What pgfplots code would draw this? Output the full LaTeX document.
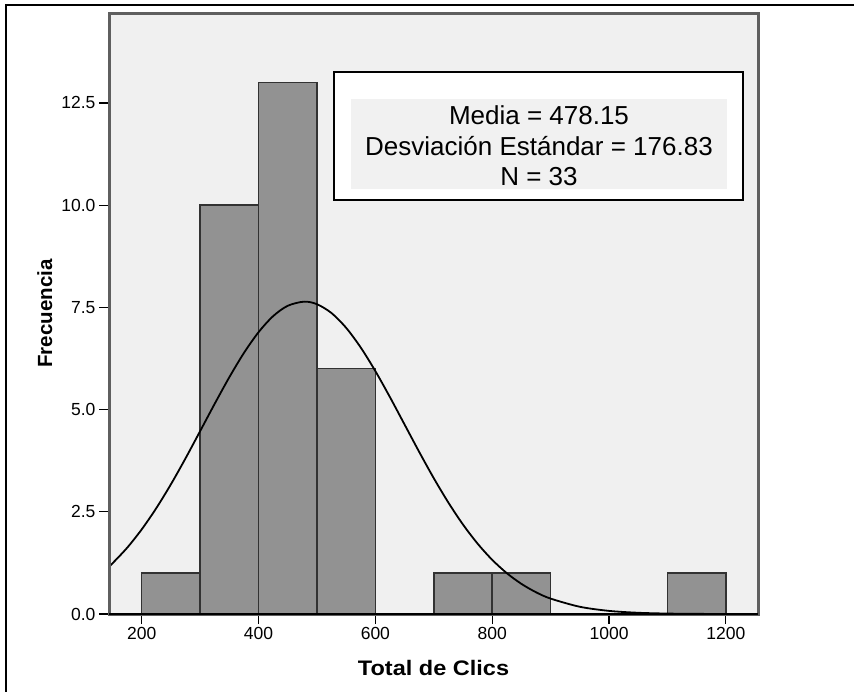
\documentclass[border=0pt]{standalone}
\usepackage{pgfplots}
\pgfplotsset{compat=1.18}
\usepackage{fontspec}
\setmainfont{Liberation Sans}
\newfontfamily\widelabel{Liberation Sans}[FakeStretch=1.12]

\definecolor{plotbg}{RGB}{240,240,240}
\definecolor{barfill}{RGB}{146,146,146}
\definecolor{baredge}{RGB}{50,50,50}
\definecolor{framegray}{RGB}{95,95,95}
\definecolor{boxgray}{RGB}{241,241,241}

\begin{document}
\begin{tikzpicture}
\useasboundingbox (0pt,0pt) rectangle (854pt,-691pt);
% outer frame of the output panel
\draw[black, line width=2pt] (6pt,-720pt) -- (6pt,-5pt) -- (880pt,-5pt);

\begin{axis}[
  at={(109pt,-614pt)}, anchor=south west,
  scale only axis, width=649pt, height=601pt,
  xmin=144, xmax=1255, ymin=0, ymax=14.7,
  xtick={200,400,600,800,1000,1200},
  ytick={0,2.5,5,7.5,10,12.5},
  xtick pos=bottom, ytick pos=left,
  tick align=outside, major tick length=10pt,
  tick style={black, line width=1.2pt},
  axis background/.style={fill=plotbg},
  axis line style={draw=framegray, line width=3pt},
  axis on top,
  /pgf/number format/assume math mode=true,
  tick label style={font=\fontsize{17.5}{17.5}\selectfont},
  xticklabel style={/pgf/number format/1000 sep={}},
  yticklabel style={/pgf/number format/fixed,
    /pgf/number format/fixed zerofill,
    /pgf/number format/precision=1},
  xlabel={Total de Clics},
  ylabel={Frecuencia},
  xlabel style={font=\fontsize{21}{21}\widelabel\bfseries,
    at={(axis description cs:0.5,-0.1015)}, anchor=base},
  ylabel style={font=\fontsize{20.5}{20.5}\selectfont\bfseries,
    at={(axis description cs:-0.0878,0.5)}, anchor=base},
  after end axis/.code={
    \draw[black, line width=1.3pt] (rel axis cs:0,0) -- (rel axis cs:1,0);
  },
]
% histogram of total clicks, bins of width 100
\addplot[ybar interval, fill=barfill, draw=baredge, line width=1.5pt]
  coordinates {(200,1) (300,10) (400,13) (500,6) (600,0) (700,1)
               (800,1) (900,0) (1000,0) (1100,1) (1200,0)};
% fitted normal curve
\addplot[smooth, black, line width=1.8pt] coordinates {
  (144,1.160) (150,1.240) (175,1.619) (200,2.070) (225,2.590)
  (250,3.173) (275,3.807) (300,4.473) (325,5.144) (350,5.792)
  (375,6.386) (400,6.893) (425,7.286) (450,7.539) (478,7.640)
  (500,7.578) (525,7.360) (550,6.999) (575,6.517) (600,5.941)
  (625,5.303) (650,4.634) (675,3.965) (700,3.321) (725,2.725)
  (750,2.188) (775,1.721) (800,1.325) (825,0.999) (850,0.737)
  (875,0.532) (900,0.377) (950,0.177) (1000,0.0764) (1050,0.0303)
  (1100,0.0110) (1150,0.0037) (1200,0.0010) (1255,0.0003)};
\end{axis}

% statistics box
\draw[black, fill=white, line width=2pt] (334pt,-72pt) rectangle (743pt,-200pt);
\fill[boxgray] (351pt,-99pt) rectangle (727pt,-189pt);
\begin{scope}[every node/.style={font=\fontsize{26}{26}\selectfont, inner sep=0pt, anchor=base}]
  \node at (539pt,-124pt) {Media = 478.15};
  \node at (539pt,-155pt) {Desviación Estándar = 176.83};
  \node at (539pt,-185pt) {N = 33};
\end{scope}
\end{tikzpicture}
\end{document}
